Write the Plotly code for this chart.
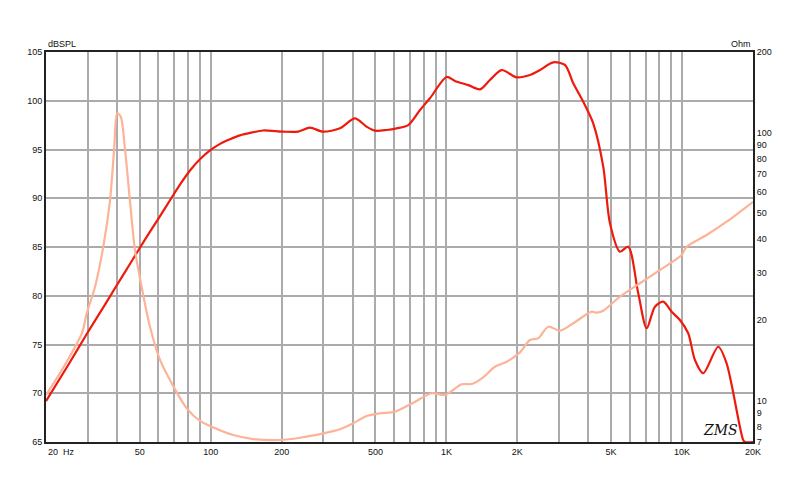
import plotly.graph_objects as go
import math

# SPL response (red)
spl_freq = [20, 25, 30, 35, 40, 45, 50, 55, 60, 68, 75, 82, 90, 100, 110, 120.7, 133, 150, 166.6, 202.6, 234.6, 263.6,
            299.4, 353.6, 409, 458.8, 497.6, 558, 615, 689, 772.6, 851.6, 1002, 1087, 1238, 1388,
            1530, 1716, 1986, 2262, 2494, 2840, 3184, 3454, 3808, 4198, 4630, 4942, 5450, 5910,
            6518, 7076, 7672, 8318, 9030, 9794, 10620, 11340, 12296, 14236, 15454, 18172, 18500, 20000]
spl_db = [69.2, 73.0, 76.2, 78.8, 81.1, 83.1, 84.9, 86.5, 87.9, 90.0, 91.6, 92.9, 94.0, 94.95, 95.6, 96.05, 96.45, 96.75,
          96.95, 96.83, 96.83, 97.24,
          96.83, 97.17, 98.2, 97.34, 96.93, 97.0, 97.17, 97.5, 99.05, 100.25, 102.44, 102.03, 101.6, 101.17,
          102.13, 103.15, 102.4, 102.64, 103.15, 103.94, 103.67, 101.79, 99.9, 97.69, 93.24, 87.46, 84.52, 85.03,
          80.25, 76.66, 78.88, 79.39, 78.36, 77.51, 76.15, 73.41, 72.05, 74.77, 73.07, 65.2, 65.0, 65.0]

# Impedance (pink)
imp_freq = [20, 22.9, 26.1, 28.4, 29.8, 32.3, 35.0, 37.4, 38.9, 40.1, 41.5, 43.3, 45.4, 47.7, 50.9, 55.2,
            60.9, 69.4, 79.1, 90, 100.9, 124.6, 151.6, 196.7, 239.2, 300.4, 353.6, 402.6, 458.8, 522.6,
            605, 723.6, 865.8, 986, 1160.6, 1280, 1433, 1607, 1802, 2052, 2262, 2454, 2704, 3032, 3454,
            4132, 4340, 4630, 5450, 6626, 8054, 9958, 10456, 12710, 15454, 20000]
imp_ohm = [10.49, 12.63, 15.4, 17.8, 21.2, 26.6, 37.5, 56.0, 86.2, 118, 114.7, 86.2, 56.0, 36.5, 26.6, 18.9,
           14.2, 11.3, 9.35, 8.39, 7.98, 7.43, 7.18, 7.12, 7.26, 7.54, 7.81, 8.22, 8.75, 8.96,
           9.08, 9.81, 10.64, 10.49, 11.5, 11.52, 12.21, 13.37, 13.96, 15.13, 16.82, 17.07, 18.86, 18.22, 19.42,
           21.46, 21.27, 21.64, 24.41, 27.39, 30.7, 34.93, 37.5, 41.48, 46.5, 55.2]

x_grid = [20, 30, 40, 50, 60, 70, 80, 90, 100, 200, 300, 400, 500, 600, 700, 800, 900,
          1000, 2000, 3000, 4000, 5000, 6000, 7000, 8000, 9000, 10000, 20000]
x_labels = {50: "50", 100: "100", 200: "200", 500: "500", 1000: "1K", 2000: "2K",
            5000: "5K", 10000: "10K", 20000: "20K"}
db_ticks = [65, 70, 75, 80, 85, 90, 95, 100, 105]
ohm_ticks = [7, 8, 9, 10, 20, 30, 40, 50, 60, 70, 80, 90, 100, 200]

font = dict(family="Liberation Sans, Arial", size=9, color="#111111")

fig = go.Figure()
fig.add_trace(go.Scatter(x=imp_freq, y=imp_ohm, yaxis="y2", mode="lines",
                         line=dict(color="#fcb398", width=2.2, shape="spline", smoothing=0.8),
                         hoverinfo="skip", showlegend=False))
fig.add_trace(go.Scatter(x=spl_freq, y=spl_db, mode="lines",
                         line=dict(color="#ee1a0c", width=2.2, shape="spline", smoothing=0.8),
                         hoverinfo="skip", showlegend=False))

fig.update_layout(
    width=800, height=484,
    margin=dict(l=38, r=55, t=44, b=50),
    paper_bgcolor="white", plot_bgcolor="white",
    font=font,
    xaxis=dict(type="log", range=[math.log10(20), math.log10(20000)],
               tickvals=x_grid, ticktext=[x_labels.get(v, "") for v in x_grid],
               showgrid=True, gridcolor="#ababab", gridwidth=1.5,
               showline=True, linecolor="#222222", linewidth=2, mirror=True,
               ticks="", ticklen=0, tickfont=font,
               zeroline=False, fixedrange=True),
    yaxis=dict(range=[65, 105], tickvals=db_ticks, ticktext=[str(v) for v in db_ticks],
               showgrid=True, gridcolor="#ababab", gridwidth=1.5,
               showline=True, linecolor="#222222", linewidth=2, mirror=True,
               ticks="", tickfont=font, zeroline=False),
    yaxis2=dict(type="log", overlaying="y", side="right",
                range=[math.log10(7), math.log10(200)],
                tickvals=ohm_ticks, ticktext=[str(v) for v in ohm_ticks],
                showgrid=False, showline=True, linecolor="#222222", linewidth=2,
                ticks="", tickfont=font, zeroline=False),
)

fig.add_annotation(text="20  Hz", x=0, y=0, xref="paper", yref="paper", xanchor="left", yanchor="top",
                   yshift=-3, showarrow=False, font=font)
fig.add_annotation(text="dBSPL", x=0, y=1, xref="paper", yref="paper", xanchor="left", yanchor="bottom",
                   yshift=1, showarrow=False, font=font)
fig.add_annotation(text="Ohm", x=1, y=1, xref="paper", yref="paper", xanchor="right", yanchor="bottom",
                   yshift=1, showarrow=False, font=font)
fig.add_annotation(text="<i>ZMS</i>", x=0.982, y=0.005, xref="paper", yref="paper", xanchor="right",
                   yanchor="bottom", showarrow=False,
                   font=dict(family="DejaVu Serif", size=14, color="#111111"))

fig.write_html("out.html")
